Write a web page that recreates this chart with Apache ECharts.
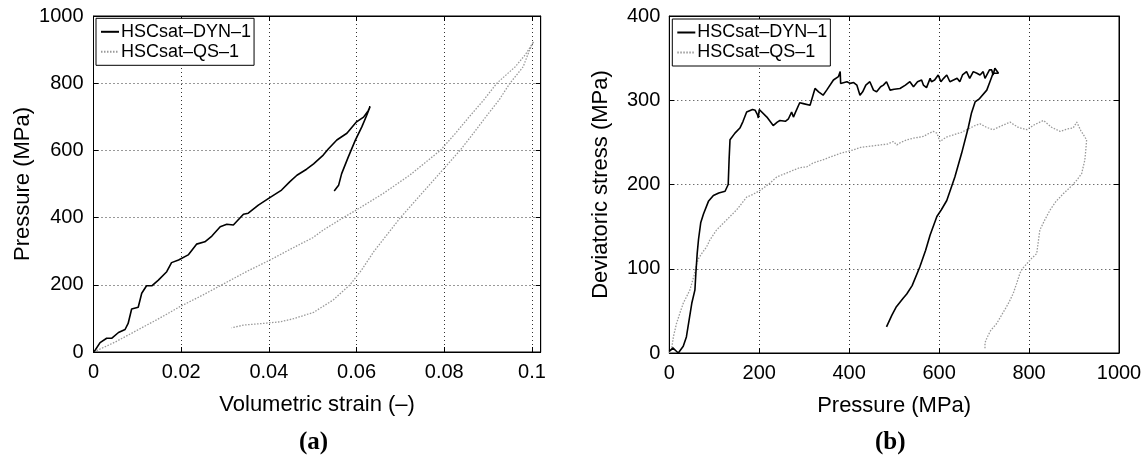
<!DOCTYPE html>
<html>
<head>
<meta charset="utf-8">
<script src="https://cdn.jsdelivr.net/npm/echarts@6/dist/echarts.min.js"></script>
<style>
html,body{margin:0;padding:0;background:#fff;}
#chart{width:1146px;height:459px;}
</style>
</head>
<body>
<div id="chart"></div>
<script>
// ---------- DATA ----------
const seriesNames = ['HSCsat\u2013DYN\u20131', 'HSCsat\u2013QS\u20131'];
const panelLabels = ['(a)', '(b)'];
const axisTitlesA = ['Volumetric strain (\u2013)', 'Pressure (MPa)'];
const axisTitlesB = ['Pressure (MPa)', 'Deviatoric stress (MPa)'];
const xTicksA = [0, 0.02, 0.04, 0.06, 0.08, 0.1];
const yTicksA = [0, 200, 400, 600, 800, 1000];
const xTicksB = [0, 200, 400, 600, 800, 1000];
const yTicksB = [0, 100, 200, 300, 400];

// Panel (a): volumetric strain vs pressure
const dynA_strain = [0,0.0004,0.0015,0.003,0.0042,0.0057,0.0072,0.0079,0.0087,0.0102,0.011,0.0121,0.0133,0.0148,0.0167,0.0178,0.0194,0.0216,0.0235,0.0254,0.027,0.0289,0.0304,0.0319,0.0342,0.0353,0.0376,0.0403,0.0429,0.0448,0.0464,0.0486,0.0502,0.0524,0.0536,0.0555,0.0578,0.06,0.0616,0.0627,0.0631,0.0623,0.0612,0.0597,0.0581,0.0566,0.0559,0.0549];
const dynA_pressure = [0,6,28,41,41,58,67,85,128,133,175,197,197,214,239,266,274,289,321,328,345,373,380,378,410,413,437,460,482,507,526,544,560,586,605,631,651,685,699,719,731,704,670,630,580,531,496,479];

const qsA_strain = [0.0007,0.005,0.01,0.015,0.0197,0.025,0.03,0.035,0.0403,0.0455,0.05,0.0524,0.057,0.06,0.0661,0.0722,0.0791,0.0825,0.0857,0.089,0.092,0.0962,0.0985,0.1004,0.0995,0.098,0.095,0.0925,0.0895,0.0866,0.0836,0.0768,0.07,0.064,0.0612,0.0585,0.0547,0.0502,0.0456,0.0426,0.0395,0.0342,0.0315];
const qsA_pressure = [4,30,65,100,135,170,205,240,274,310,340,363,400,423,472,527,600,650,700,750,800,849,885,924,900,849,800,750,700,650,600,500,400,300,245,200,155,118,99,90,86,80,72];

// Panel (b): pressure vs deviatoric stress
const dynB_pressure = [0,8,14,20,24,31,38,44,50,57,59,62,65,70,76,87,98,110,124,131,133,135,146,157,164,172,185,191,196,198,200,203,217,231,240,246,258,265,272,276,280,290,298,313,324,332,342,350,365,376,380,381,383,395,402,410,417,424,430,437,446,454,461,470,476,483,491,500,513,525,535,543,552,561,565,572,580,583,590,598,604,610,617,624,632,640,646,652,661,668,676,684,691,698,702,706,712,717,720,724,728,732,729,720,713,706,690,680,672,665,650,635,617,605,595,580,570,557,540,528,520,505,495,483];
const dynB_q = [2,6,3,0,0,8,19,39,59,75,94,118,135,155,165,180,187,190,192,200,230,253,261,267,275,286,289,288,283,279,289,287,280,270,274,276,275,278,286,280,285,297,296,294,314,310,306,312,324,328,334,320,318,322,320,321,318,306,310,318,322,312,310,316,318,322,312,313,314,318,322,316,322,324,318,315,326,322,324,330,322,326,330,322,324,326,322,330,334,326,334,332,330,334,326,328,336,336,330,338,336,332,334,332,322,312,302,298,285,268,237,209,181,170,162,140,122,102,80,70,65,55,45,31];

const qsB_pressure = [0,5,9,16,24,31,46,55,61,65,72,83,90,105,120,135,150,172,185,202,220,239,258,276,290,306,318,328,340,350,365,380,395,409,425,439,455,469,485,498,506,515,528,543,555,565,575,587,595,602,615,632,650,669,680,691,705,720,740,758,775,795,812,832,850,869,885,898,906,915,928,926,924,920,917,906,890,876,860,847,835,824,820,817,805,795,785,780,772,765,758,750,740,728,715,709,704,702,702];
const qsB_q = [0,4,19,35,48,59,75,92,106,112,118,126,134,146,154,162,170,185,188,193,200,209,213,217,220,221,225,227,229,231,234,237,239,241,244,245,246,247,248,251,247,250,253,255,256,257,260,263,261,251,256,259,262,267,270,272,268,265,270,274,268,265,271,276,268,263,266,267,274,264,253,240,229,220,213,205,196,189,180,170,158,146,130,118,112,106,100,95,82,71,63,55,46,35,27,21,15,12,4];

// ---------- BUILD ----------
function zip(a, b) { return a.map((v, i) => [v, b[i]]); }
const FONT = 'Liberation Sans';
const tickFont = { fontFamily: FONT, fontSize: 20, color: '#000' };
const titleFont = { fontFamily: FONT, fontSize: 22, color: '#000' };
const gridLine = { show: true, lineStyle: { color: '#333', width: 1, type: [1, 3] } };

function mkAxis(o) {
  const ticks = o.ticks, step = ticks[1] - ticks[0];
  const base = {
    type: 'value', gridIndex: o.grid, position: o.pos,
    min: ticks[0], max: o.max !== undefined ? o.max : ticks[ticks.length - 1], interval: step,
    axisLine: { show: true, onZero: false, lineStyle: { color: '#000', width: 1 } },
    axisTick: { show: true, inside: true, length: 5, lineStyle: { color: '#000' } },
    splitLine: o.secondary ? { show: false } : gridLine,
    axisLabel: o.secondary ? { show: false } : Object.assign({
      margin: o.margin,
      showMaxLabel: o.max === undefined,
      formatter: function (v) {
        const k = v / step;
        return Math.abs(k - Math.round(k)) < 1e-6 ? String(+v.toFixed(4)) : '';
      }
    }, tickFont)
  };
  if (o.name && !o.secondary) {
    base.name = o.name;
    base.nameLocation = 'middle';
    base.nameGap = o.nameGap;
    base.nameTextStyle = titleFont;
  }
  return base;
}

const chart = echarts.init(document.getElementById('chart'), null, { renderer: 'canvas' });
chart.setOption({
  backgroundColor: '#fff',
  animation: false,
  grid: [
    { left: 93.5, top: 16, width: 447.2, height: 336, show: true, borderColor: '#000', borderWidth: 1, backgroundColor: 'transparent' },
    { left: 669.3, top: 16, width: 449.7, height: 337, show: true, borderColor: '#000', borderWidth: 1, backgroundColor: 'transparent' }
  ],
  xAxis: [
    mkAxis({ grid: 0, pos: 'bottom', ticks: xTicksA, max: 0.102, margin: 10, name: axisTitlesA[0], nameGap: 42 }),
    mkAxis({ grid: 1, pos: 'bottom', ticks: xTicksB, margin: 10, name: axisTitlesB[0], nameGap: 42 }),
    mkAxis({ grid: 0, pos: 'top', ticks: xTicksA, max: 0.102, secondary: true }),
    mkAxis({ grid: 1, pos: 'top', ticks: xTicksB, secondary: true })
  ],
  yAxis: [
    mkAxis({ grid: 0, pos: 'left', ticks: yTicksA, margin: 10, name: axisTitlesA[1], nameGap: 60 }),
    mkAxis({ grid: 1, pos: 'left', ticks: yTicksB, margin: 9, name: axisTitlesB[1], nameGap: 57 }),
    mkAxis({ grid: 0, pos: 'right', ticks: yTicksA, secondary: true }),
    mkAxis({ grid: 1, pos: 'right', ticks: yTicksB, secondary: true })
  ],
  legend: [0, 1].map(i => ({
    data: seriesNames,
    orient: 'vertical',
    left: i === 0 ? 96 : 672.3,
    top: i === 0 ? 18.3 : 19,
    backgroundColor: '#fff',
    borderColor: '#000',
    borderWidth: 1,
    borderRadius: 0,
    padding: [4, 3, 4, 4],
    itemGap: 1,
    itemWidth: 18,
    itemHeight: 10,
    selectedMode: false,
    itemStyle: { opacity: 0 },
    textStyle: { fontFamily: FONT, fontSize: 18, color: '#000', padding: [0, 0, 0, -3], lineHeight: 19 }
  })),
  graphic: panelLabels.map((t, i) => ({
    type: 'text',
    left: i === 0 ? 318 - 19 : 894 - 19,
    top: 430,
    style: { text: t, font: 'bold 25px "Liberation Serif"', fill: '#000' }
  })),
  series: [
    { name: seriesNames[0], type: 'line', xAxisIndex: 0, yAxisIndex: 0, data: zip(dynA_strain, dynA_pressure), showSymbol: false, symbol: 'none', lineStyle: { color: '#000', width: 1.6 }, itemStyle: { color: '#000' }, z: 3 },
    { name: seriesNames[1], type: 'line', xAxisIndex: 0, yAxisIndex: 0, data: zip(qsA_strain, qsA_pressure), showSymbol: false, symbol: 'none', lineStyle: { color: '#999', width: 1.3, type: [1.5, 1.5] }, itemStyle: { color: '#999' }, z: 2 },
    { name: seriesNames[0], type: 'line', xAxisIndex: 1, yAxisIndex: 1, data: zip(dynB_pressure, dynB_q), showSymbol: false, symbol: 'none', lineStyle: { color: '#000', width: 1.6 }, itemStyle: { color: '#000' }, z: 3 },
    { name: seriesNames[1], type: 'line', xAxisIndex: 1, yAxisIndex: 1, data: zip(qsB_pressure, qsB_q), showSymbol: false, symbol: 'none', lineStyle: { color: '#999', width: 1.3, type: [1.5, 1.5] }, itemStyle: { color: '#999' }, z: 2 }
  ]
});
</script>
</body>
</html>
